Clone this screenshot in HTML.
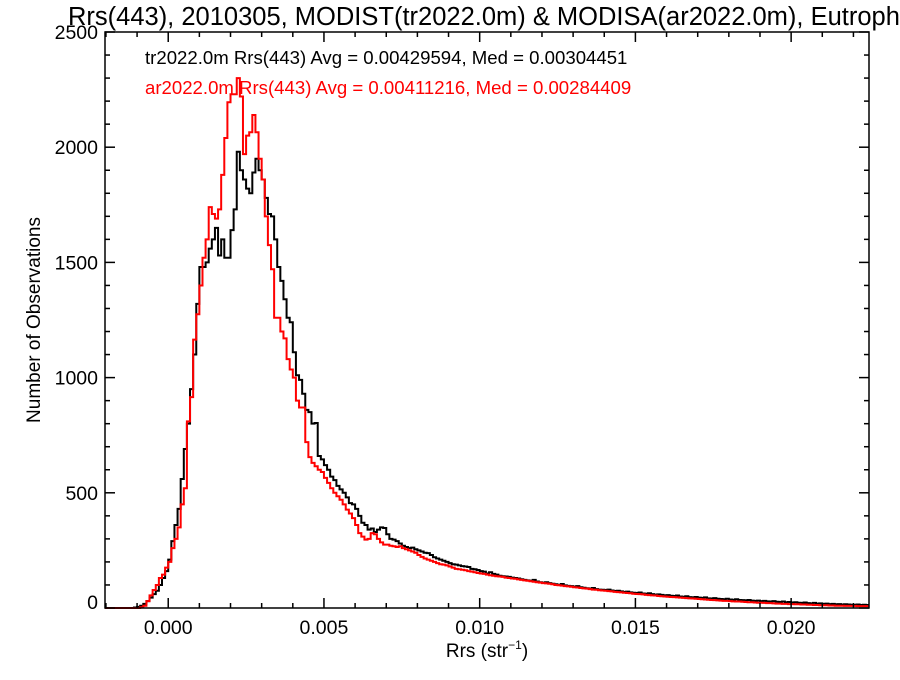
<!DOCTYPE html>
<html><head><meta charset="utf-8"><style>
body{margin:0;background:#fff;}
svg text{font-family:"Liberation Sans",sans-serif;}
</style></head><body>
<svg id="chart" width="900" height="675" xmlns="http://www.w3.org/2000/svg">
<rect width="900" height="675" fill="#fff"/>
<text x="68" y="25" font-size="25.5">Rrs(443), 2010305, MODIST(tr2022.0m) &amp; MODISA(ar2022.0m), Eutrophic</text>
<text x="145" y="64" font-size="18.6" fill="#000">tr2022.0m Rrs(443) Avg = 0.00429594, Med = 0.00304451</text>
<text x="145" y="94" font-size="18.6" fill="#f00">ar2022.0m Rrs(443) Avg = 0.00411216, Med = 0.00284409</text>
<text transform="translate(40,320) rotate(-90)" text-anchor="middle" font-size="19">Number of Observations</text>
<text x="487" y="657" text-anchor="middle" font-size="19">Rrs (str<tspan font-size="12" dy="-8">−1</tspan><tspan dy="8">)</tspan></text>
<g id="marks"></g>
<g id="axes"></g>
</svg>
<script>
const binStart = -0.002;
const binWidth = 0.0001;
const trCounts = [
0,0,0,0,0,0,0,0,0,2,
5,10,18,30,45,60,75,100,130,160,
210,290,360,430,560,690,800,950,1100,1320,
1480,1480,1500,1560,1600,1650,1530,1600,1520,1520,
1640,1730,1980,1900,1860,1820,1800,1890,1950,1900,
1860,1780,1710,1700,1600,1480,1420,1340,1260,1240,
1110,1010,990,930,860,850,800,803,660,645,
620,600,570,555,530,515,500,480,455,450,
430,400,370,360,340,345,330,340,350,347,
320,300,297,290,280,270,265,260,262,255,
250,245,240,238,230,220,215,210,205,200,
195,190,188,185,182,180,178,170,168,165,
160,158,150,155,148,145,140,138,137,135,
132,130,128,125,122,120,118,122,115,112,
110,112,108,105,103,100,104,98,96,95,
93,95,90,88,86,84,87,82,80,79,
78,80,76,74,75,72,70,71,68,66,
65,67,63,62,64,60,58,59,57,55,
56,53,52,54,50,49,51,47,46,48,
45,44,46,42,41,43,40,39,38,40,
37,36,38,35,34,33,35,32,31,32,
30,31,29,28,30,27,26,28,25,26,
24,25,23,22,24,21,20,22,19,20,
18,19,17,18,16,17,15,16,15,14,
14,15,13,14,13];
const arCounts = [
0,0,0,0,0,0,0,0,0,0,
0,3,10,30,55,78,100,130,145,175,
200,260,300,350,450,520,810,915,1165,1275,
1400,1520,1600,1740,1710,1690,1730,1880,2040,2195,
2230,2230,2300,2220,1970,2050,2065,2140,2065,1950,
1860,1700,1575,1470,1260,1260,1200,1170,1080,1035,
1000,900,870,870,720,655,630,615,600,590,
565,543,520,500,485,470,450,427,410,390,
360,325,310,297,300,325,320,300,285,275,
275,270,268,265,268,260,255,250,245,240,
230,222,215,210,205,200,195,190,188,185,
180,175,170,168,166,164,160,158,155,152,
150,148,145,142,140,138,137,135,132,130,
128,127,124,122,120,118,116,114,112,110,
108,107,105,103,100,99,97,95,94,92,
90,89,87,85,84,82,80,79,77,76,
75,73,72,70,69,68,66,65,64,62,
61,60,59,57,56,55,54,52,51,50,
49,48,47,46,45,44,43,42,41,40,
39,38,37,36,35,34,33,32,31,31,
30,29,28,28,27,26,25,25,24,23,
23,22,21,21,20,19,19,18,18,17,
17,16,16,15,15,14,14,13,13,12,
12,12,11,11,10,10,10,9,9,9,
9,8,8,8,8];
const yTicks = [0,500,1000,1500,2000,2500];
const xTicks = [0.000,0.005,0.010,0.015,0.020];
const xTickLabels = ["0.000","0.005","0.010","0.015","0.020"];

const L=105,R=869,T=32,B=608;
const xMin=-0.00203,xMax=0.0225,yMin=0,yMax=2500;
const sx=v=>L+(v-xMin)/(xMax-xMin)*(R-L);
const sy=v=>B-(v-yMin)/(yMax-yMin)*(B-T);
const NS="http://www.w3.org/2000/svg";
const marks=document.getElementById('marks');
const axes=document.getElementById('axes');

function stepPath(counts){
  let d="M"+L+","+sy(0);
  for(let i=0;i<counts.length;i++){
    const x0=Math.max(L,sx(binStart+i*binWidth));
    const x1=Math.min(R,sx(binStart+(i+1)*binWidth));
    if(x0>=R)break;
    d+=" L"+x0.toFixed(2)+","+sy(counts[i]).toFixed(2)+" L"+x1.toFixed(2)+","+sy(counts[i]).toFixed(2);
  }
  return d;
}
const p1=document.createElementNS(NS,'path');


p1.setAttribute('d',stepPath(trCounts));
p1.setAttribute('fill','none');p1.setAttribute('stroke','#000');p1.setAttribute('stroke-width','2');
marks.appendChild(p1);
const p2=document.createElementNS(NS,'path');


p2.setAttribute('d',stepPath(arCounts));
p2.setAttribute('fill','none');p2.setAttribute('stroke','#f00');p2.setAttribute('stroke-width','2');
marks.appendChild(p2);

function line(x1,y1,x2,y2,name){
  const l=document.createElementNS(NS,'line');
  
  
  l.setAttribute('x1',x1);l.setAttribute('y1',y1);l.setAttribute('x2',x2);l.setAttribute('y2',y2);
  l.setAttribute('stroke','#000');l.setAttribute('stroke-width','1.5');
  axes.appendChild(l);
}
function text(x,y,s,anchor,name){
  const t=document.createElementNS(NS,'text');
  
  
  t.setAttribute('x',x);t.setAttribute('y',y);t.setAttribute('text-anchor',anchor);t.setAttribute('font-size','19.5');
  t.textContent=s;axes.appendChild(t);
}
const frame=document.createElementNS(NS,'rect');


frame.setAttribute('x',L);frame.setAttribute('y',T);frame.setAttribute('width',R-L);frame.setAttribute('height',B-T);
frame.setAttribute('fill','none');frame.setAttribute('stroke','#000');frame.setAttribute('stroke-width','1.5');
axes.appendChild(frame);
for(let v=0;v<=2500;v+=100){
  const y=sy(v), len=(v%500===0)?10:5;
  line(L,y,L+len,y,'y-tick');line(R-len,y,R,y,'y-tick-right');
}
yTicks.forEach(v=>text(L-7,Math.min(sy(v)+7,B+1),String(v),'end','y-tick-label'));
for(let k=-2;k<=22;k++){
  const v=k*0.001,x=sx(v),len=(k%5===0)?10:5;
  line(x,B,x,B-len,'x-tick');line(x,T,x,T+len,'x-tick-top');
}
xTicks.forEach((v,i)=>text(sx(v),634,xTickLabels[i],'middle','x-tick-label'));
</script>
</body></html>
